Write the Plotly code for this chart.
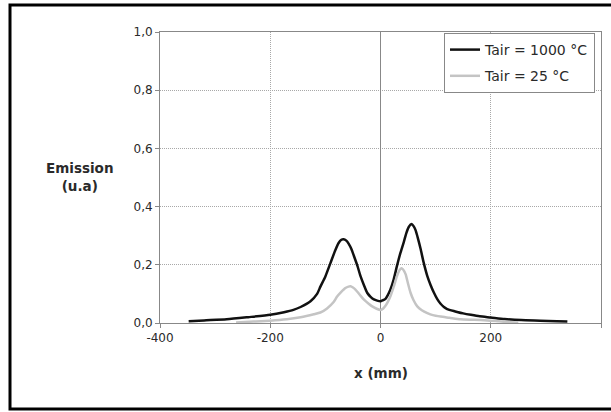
import plotly.graph_objects as go

# Tair = 1000 °C
x_hot = [-348, -320, -279, -240, -200, -175, -158, -145, -127, -115, -109, -100, -91, -82, -76, -71, -67,
         -62, -57.6, -53, -48.5, -42, -36.4, -30, -24.2, -18, -12, -6, 0, 4, 9, 13, 18, 24, 30, 36,
         42.4, 47, 51.5, 56.4, 60, 63.6, 68, 72.7, 78, 84.8, 91, 97, 103, 109, 115, 121, 133, 139, 150,
         164, 180, 200, 225, 255, 290, 320, 339]
y_hot = [0.006, 0.009, 0.013, 0.020, 0.028, 0.037, 0.045, 0.055, 0.075, 0.100, 0.125, 0.160, 0.205, 0.250, 0.275, 0.286, 0.288,
         0.283, 0.272, 0.255, 0.232, 0.197, 0.162, 0.130, 0.104, 0.090, 0.081, 0.077, 0.075, 0.078, 0.083, 0.095, 0.115, 0.150, 0.197, 0.240,
         0.279, 0.310, 0.331, 0.340, 0.333, 0.319, 0.290, 0.255, 0.210, 0.162, 0.130, 0.104, 0.082, 0.066, 0.055, 0.048, 0.041, 0.038, 0.033,
         0.028, 0.023, 0.019, 0.014, 0.010, 0.008, 0.006, 0.005]

# Tair = 25 °C
x_cold = [-262, -230, -200, -170, -145, -121, -109, -97, -85, -79, -72, -63.6, -58, -54.5, -50, -45.5, -38, -30,
          -22, -15, -7, 0, 5, 9, 13, 18, 24, 30, 34, 38, 41, 45.5, 50, 54.5, 60, 66.7, 75, 85, 95, 109, 125,
          145, 170, 194, 215, 236, 250]
y_cold = [0.002, 0.005, 0.008, 0.013, 0.020, 0.030, 0.036, 0.050, 0.072, 0.090, 0.105, 0.120, 0.125, 0.126, 0.122, 0.115, 0.098, 0.080,
          0.067, 0.057, 0.049, 0.045, 0.050, 0.059, 0.072, 0.092, 0.125, 0.162, 0.180, 0.188, 0.184, 0.168, 0.135, 0.104, 0.078, 0.057, 0.044, 0.034, 0.027, 0.022, 0.018,
          0.013, 0.011, 0.009, 0.006, 0.003, 0.002]

x_ticks = [-400, -200, 0, 200, 400]
x_tick_labels = ["-400", "-200", "0", "200", "400"]
y_ticks = [0.0, 0.2, 0.4, 0.6, 0.8, 1.0]
y_tick_labels = ["0,0", "0,2", "0,4", "0,6", "0,8", "1,0"]

FONT = "DejaVu Sans, Liberation Sans, sans-serif"
TXT = "#2a2a2a"

fig = go.Figure()
fig.add_trace(go.Scatter(x=x_hot, y=y_hot, mode="lines", name="Tair = 1000 °C", legendgroup="a",
                         line=dict(color="#111111", width=2.5, shape="spline", smoothing=0.6)))
fig.add_trace(go.Scatter(x=x_cold, y=y_cold, mode="lines", name="Tair = 25 °C", legendgroup="b",
                         line=dict(color="#c4c4c4", width=2.5, shape="spline", smoothing=0.6)))

L, R, T, B = 160, 10, 32, 89
W, H = 611, 412
pw, ph = W - L - R, H - T - B

def px(xp):
    return (xp - L) / pw

def py(yp):
    return (H - B - yp) / ph

grid = dict(showgrid=True, gridcolor="#a8a8a8", griddash="1px,1px", gridwidth=1)

fig.update_layout(
    width=W, height=H, autosize=False,
    margin=dict(l=L, r=R, t=T, b=B),
    paper_bgcolor="white", plot_bgcolor="white",
    font=dict(family=FONT, size=12, color=TXT),
    showlegend=True,
    legend=dict(x=px(444), y=py(33), xanchor="left", yanchor="top",
                bgcolor="white", bordercolor="#888888", borderwidth=1,
                font=dict(family=FONT, size=14, color=TXT),
                itemwidth=30, tracegroupgap=5, traceorder="grouped"),
    xaxis=dict(range=[-400, 400], tickvals=x_ticks, ticktext=x_tick_labels, **grid,
               zeroline=True, zerolinecolor="#888888", zerolinewidth=1,
               showline=True, mirror=True, linecolor="#888888", linewidth=1,
               ticks="outside", ticklen=4, tickcolor="#888888",
               tickfont=dict(family=FONT, size=12, color=TXT)),
    yaxis=dict(range=[0, 1.0], tickvals=y_ticks, ticktext=y_tick_labels, **grid,
               zeroline=False,
               showline=True, mirror=True, linecolor="#888888", linewidth=1,
               ticks="outside", ticklen=4, tickcolor="#888888",
               tickfont=dict(family=FONT, size=12, color=TXT)),
    annotations=[
        dict(text="<b>Emission</b><br><b>(u.a)</b>", xref="paper", yref="paper",
             x=px(80), y=py(177), xanchor="center", yanchor="middle", showarrow=False,
             font=dict(family=FONT, size=13.5, color=TXT)),
        dict(text="<b>x (mm)</b>", xref="paper", yref="paper",
             x=px(381), y=py(373), xanchor="center", yanchor="middle", showarrow=False,
             font=dict(family=FONT, size=13.5, color=TXT)),
    ],
    shapes=[
        dict(type="rect", xref="paper", yref="paper",
             x0=px(10), x1=px(640), y0=py(409), y1=py(5),
             line=dict(color="black", width=3), fillcolor="rgba(0,0,0,0)", layer="above"),
    ],
)

fig.write_html("out.html",
               config={"displayModeBar": False, "responsive": False},
               post_script="document.body.style.margin='0';document.body.style.overflow='hidden';")
